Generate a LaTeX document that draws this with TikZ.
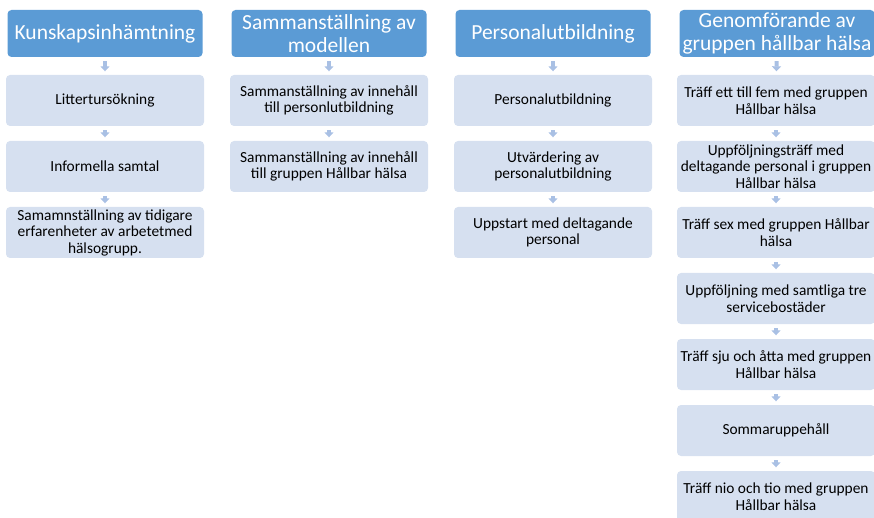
\documentclass[tikz,border=0pt]{standalone}
\usepackage{fontspec}
\setmainfont{Carlito}
\usetikzlibrary{arrows.meta}
\definecolor{rubrikbla}{HTML}{5B9BD5}
\definecolor{stegbla}{HTML}{D6E0F0}
\definecolor{pilbla}{HTML}{A9C0E4}
\begin{document}
\begin{tikzpicture}[x=1pt, y=-1pt,
  rubrik/.style={fill=rubrikbla, text=white, rounded corners=4pt, minimum width=195pt, minimum height=47pt, inner sep=0pt, align=center, font=\fontsize{21.5}{23}\selectfont},
  steg/.style={fill=stegbla, rounded corners=4pt, minimum width=198pt, minimum height=51pt, inner sep=0pt, align=center, font=\fontsize{15.4}{16.5}\selectfont},
  pil/.style={pilbla, line width=4pt, -{Triangle[width=9pt, length=5pt]}, shorten <=4pt, shorten >=3.5pt}]
\useasboundingbox (0,0) rectangle (874,518);

% Rubriker
	\foreach \x/\n/\t in {105/1/Kunskapsinhämtning, 329/2/{Sammanställning av\\modellen}, 553/3/Personalutbildning, 777/4/{Genomförande av\\gruppen hållbar hälsa}}
		\node[rubrik] (h\n) at (\x,33.5) {\t};

% Steg
	\foreach \x/\n/\i/\t in {105/1/1/Littertursökning, 105/1/2/Informella samtal, 105/1/3/{Samamnställning av tidigare\\erfarenheter av arbetetmed\\hälsogrupp.},
		329/2/1/{Sammanställning av innehåll\\till personlutbildning}, 329/2/2/{Sammanställning av innehåll\\till gruppen Hållbar hälsa},
		553/3/1/Personalutbildning, 553/3/2/{Utvärdering av\\personalutbildning}, 553/3/3/{Uppstart med deltagande\\personal},
		776/4/1/{Träff ett till fem med gruppen\\Hållbar hälsa}, 776/4/2/{Uppföljningsträff med\\deltagande personal i gruppen\\Hållbar hälsa}, 776/4/3/{Träff sex med gruppen Hållbar\\hälsa}, 776/4/4/{Uppföljning med samtliga tre\\servicebostäder}, 776/4/5/{Träff sju och åtta med gruppen\\Hållbar hälsa}, 776/4/6/Sommaruppehåll, 776/4/7/{Träff nio och tio med gruppen\\Hållbar hälsa}}
		\node[steg] (s\n\i) at (\x,{100.5+66*(\i-1)}) {\t};

% Pilar
	\foreach \a/\b in {h1/s11, s11/s12, s12/s13, h2/s21, s21/s22, h3/s31, s31/s32, s32/s33, h4/s41, s41/s42, s42/s43, s43/s44, s44/s45, s45/s46, s46/s47}
		\draw[pil] (\a) -- (\b);
\end{tikzpicture}
\end{document}
